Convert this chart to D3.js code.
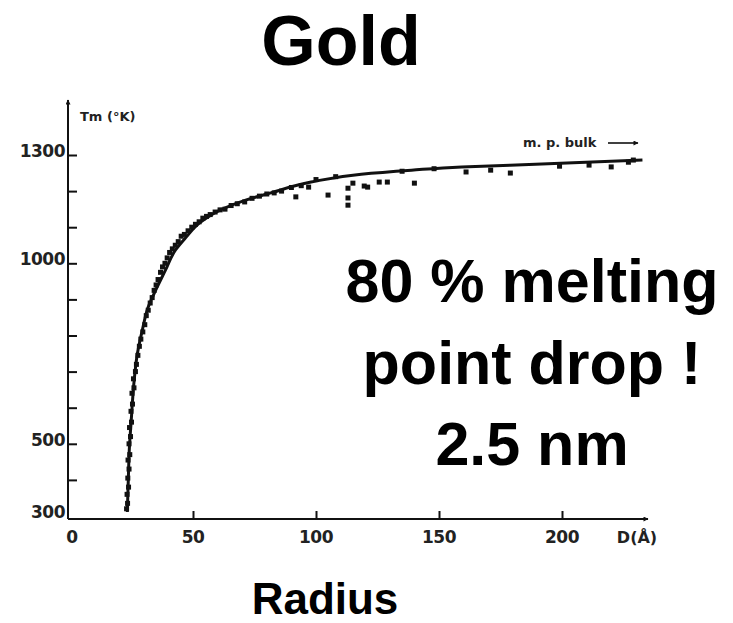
<!DOCTYPE html>
<html>
<head>
<meta charset="utf-8">
<script src="https://cdn.jsdelivr.net/npm/d3@7"></script>
<style>
  html, body { margin: 0; padding: 0; background: #fff; }
  svg { display: block; }
</style>
</head>
<body>
<svg id="chart" width="733" height="623"></svg>
<script>
// ---- data ----
const yTickValues = [300, 400, 500, 600, 700, 800, 900, 1000, 1100, 1200, 1300];
const yTickLabels = [300, 500, 1000, 1300];
const xTickValues = [0, 50, 100, 150, 200];

// fitted curve: particle size D (Å) vs melting temperature Tm (K)
const fitD = [23.3, 23.7, 24.1, 24.9, 26.1, 27.3, 29.4, 31.8, 33.9, 38.8, 42.9, 46.9, 53.1, 61.2, 71.4, 81.6, 98, 118.4, 138.8, 159.2, 191.8, 232.7];
const fitT = [311, 400, 483, 566, 677, 746, 815, 879, 912, 981, 1037, 1070, 1114, 1148, 1175, 1195, 1225, 1247, 1258, 1267, 1275, 1286];

// measured points
const ptD = [23.0, 23.4, 23.2, 23.8, 23.5, 24.0, 23.6, 24.3, 24.0, 24.6, 24.2, 25.0, 24.8, 25.4, 25.2, 26.0, 25.8, 26.6, 27.0, 27.6,
             28.2, 28.8, 29.6, 30.4, 31.0, 31.8, 32.6, 33.4, 34.2, 35.0, 35.8, 36.8, 37.6, 38.6, 39.5, 40.5, 41.6, 42.8, 44.0, 45.2,
             46.5, 48.0, 49.5, 51.0, 52.5, 54.0, 55.5, 57.0, 59.0, 61.0, 63.0, 65.5, 68.0, 71.0, 74.0, 77.0, 80.0, 83.0, 86.0, 90.0,
             94.0, 97, 91.8, 104.9, 113, 115, 113, 113, 119.6, 121, 125.7, 129, 140, 135, 148, 161, 171, 179, 199, 211,
             220, 227, 229, 100, 108];
const ptT = [320, 335, 360, 380, 405, 430, 455, 470, 500, 520, 545, 560, 590, 610, 640, 655, 680, 700, 720, 745,
             770, 790, 810, 830, 855, 870, 890, 905, 925, 940, 955, 975, 990, 1000, 1015, 1030, 1040, 1050, 1060, 1075,
             1080, 1090, 1100, 1108, 1115, 1125, 1130, 1135, 1142, 1148, 1150, 1160, 1165, 1170, 1180, 1186, 1192, 1195, 1200, 1210,
             1215, 1211, 1184, 1189, 1208, 1222, 1181, 1161, 1214, 1211, 1225, 1225, 1222, 1255, 1262, 1253, 1258, 1250, 1269, 1272,
             1267, 1280, 1286, 1232, 1240];

// ---- drawing ----
const svg = d3.select("#chart");
const ink = "#111";

const x = d3.scaleLinear().domain([0, 200]).range([70, 562]);
const y = d3.scaleLinear().domain([300, 1300]).range([516, 155]);

const axisX = x(0) - 2;      // y-axis line position
const axisY = y(300) + 3;    // x-axis line position

// defs: arrow head
svg.append("defs").append("marker")
  .attr("id", "arrow").attr("viewBox", "0 0 10 10")
  .attr("refX", 9).attr("refY", 5)
  .attr("markerWidth", 7).attr("markerHeight", 5)
  .attr("markerUnits", "userSpaceOnUse")
  .attr("orient", "auto")
  .append("path").attr("d", "M0,0 L10,5 L0,10 Z").attr("fill", ink);

// Y axis line with arrow
svg.append("line")
  .attr("x1", axisX).attr("y1", axisY)
  .attr("x2", axisX).attr("y2", 100)
  .attr("stroke", ink).attr("stroke-width", 2)
  .attr("marker-end", "url(#arrow)");

// X axis line with arrow
svg.append("line")
  .attr("x1", axisX).attr("y1", axisY)
  .attr("x2", 648).attr("y2", axisY)
  .attr("stroke", ink).attr("stroke-width", 2)
  .attr("marker-end", "url(#arrow)");

// Y ticks (inward)
const yAxisG = svg.append("g").attr("transform", `translate(${axisX},0)`)
  .call(d3.axisRight(y).tickValues(yTickValues.filter(v => v !== 300)).tickSize(9).tickFormat(""));
yAxisG.select(".domain").remove();
yAxisG.selectAll(".tick line").attr("stroke", ink).attr("stroke-width", 2);

// Y tick labels
svg.append("g").selectAll("text").data(yTickLabels).join("text")
  .attr("x", axisX - 3).attr("y", d => y(d) + 2)
  .attr("text-anchor", "end")
  .attr("font-family", "DejaVu Sans, sans-serif")
  .attr("font-size", 17).attr("font-weight", "bold")
  .attr("letter-spacing", "-0.5")
  .attr("fill", "#222")
  .text(d => d);

// X ticks (upward)
const xAxisG = svg.append("g").attr("transform", `translate(0,${axisY})`)
  .call(d3.axisTop(x).tickValues(xTickValues.filter(v => v !== 0)).tickSize(8).tickFormat(""));
xAxisG.select(".domain").remove();
xAxisG.selectAll(".tick line").attr("stroke", ink).attr("stroke-width", 2);

// X tick labels
svg.append("g").selectAll("text").data(xTickValues).join("text")
  .attr("x", d => x(d) + (d === 0 ? 2 : 0)).attr("y", 543)
  .attr("text-anchor", "middle")
  .attr("font-family", "DejaVu Sans, sans-serif")
  .attr("font-size", 17).attr("font-weight", "bold")
  .attr("letter-spacing", "-0.5")
  .attr("fill", "#222")
  .text(d => d);

// axis titles
svg.append("text").attr("x", 637).attr("y", 543)
  .attr("text-anchor", "middle")
  .attr("font-family", "DejaVu Sans, sans-serif")
  .attr("font-size", 16).attr("font-weight", "bold").attr("fill", "#222")
  .text("D(Å)");

svg.append("text").attr("x", 80).attr("y", 121)
  .attr("font-family", "DejaVu Sans, sans-serif")
  .attr("font-size", 13).attr("font-weight", "bold").attr("fill", "#222")
  .text("Tm (°K)");

// m.p. bulk label + arrow
svg.append("text").attr("x", 523).attr("y", 147)
  .attr("font-family", "DejaVu Sans, sans-serif")
  .attr("font-size", 13).attr("font-weight", "bold").attr("fill", "#222")
  .text("m. p. bulk");
svg.append("line")
  .attr("x1", 608).attr("y1", 143).attr("x2", 638).attr("y2", 143)
  .attr("stroke", ink).attr("stroke-width", 1.6)
  .attr("marker-end", "url(#arrow)");

// fitted curve
const fit = fitD.map((d, i) => [d, fitT[i]]);
svg.append("path")
  .datum(fit)
  .attr("fill", "none").attr("stroke", ink).attr("stroke-width", 3)
  .attr("d", d3.line().x(d => x(d[0])).y(d => y(d[1])).curve(d3.curveMonotoneY));

// points
const pts = ptD.map((d, i) => [d, ptT[i]]);
svg.append("g").selectAll("rect").data(pts).join("rect")
  .attr("x", d => x(d[0]) - 2.5).attr("y", d => y(d[1]) - 2.5)
  .attr("width", 5).attr("height", 5)
  .attr("fill", ink);

// big annotations
const bigFont = "Liberation Sans, Arial, Helvetica, sans-serif";
svg.append("text").attr("x", 341).attr("y", 65)
  .attr("text-anchor", "middle").attr("font-family", bigFont)
  .attr("font-size", 70).attr("font-weight", "bold").attr("fill", "#000")
  .text("Gold");

const noteLines = ["80 % melting", "point drop !", "2.5 nm"];
const noteBaselines = [302, 384, 465];
svg.append("g").selectAll("text").data(noteLines).join("text")
  .attr("x", 532).attr("y", (d, i) => noteBaselines[i])
  .attr("text-anchor", "middle").attr("font-family", bigFont)
  .attr("font-size", 61).attr("font-weight", "bold").attr("fill", "#000")
  .text(d => d);

svg.append("text").attr("x", 325).attr("y", 614)
  .attr("text-anchor", "middle").attr("font-family", bigFont)
  .attr("font-size", 44).attr("font-weight", "bold").attr("fill", "#000")
  .text("Radius");
</script>
</body>
</html>
